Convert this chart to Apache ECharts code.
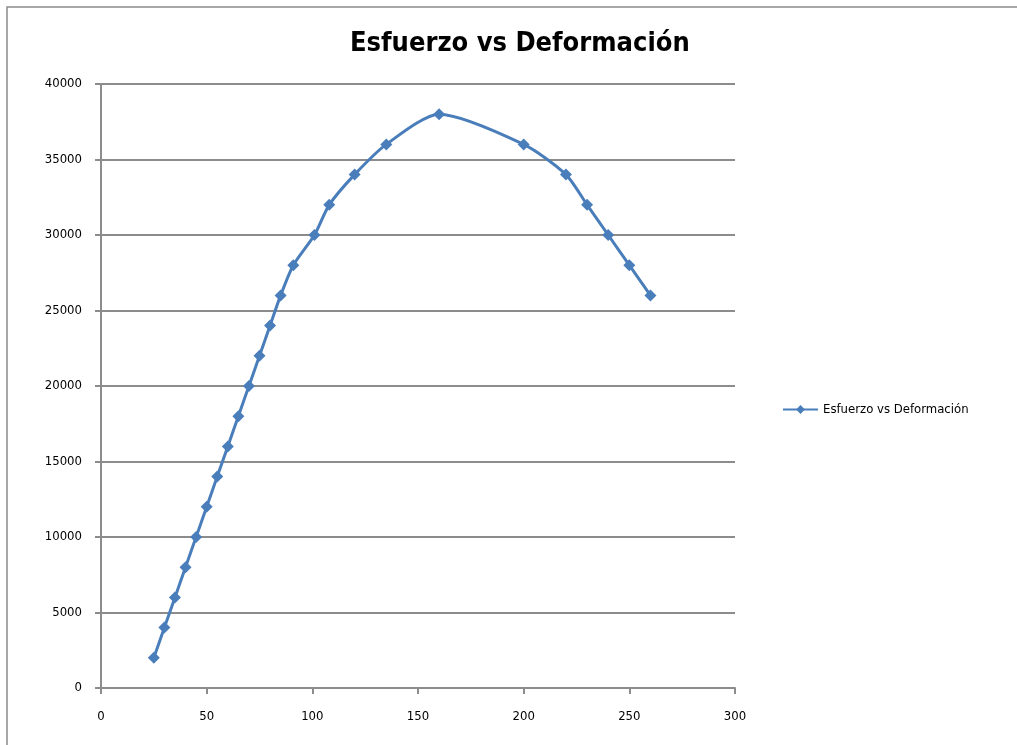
<!DOCTYPE html>
<html>
<head>
<meta charset="utf-8">
<script src="https://cdn.jsdelivr.net/npm/echarts@6/dist/echarts.min.js"></script>
<style>
html,body{margin:0;padding:0;background:#fff;}
#c{width:1017px;height:745px;}
</style>
</head>
<body>
<div id="c"></div>
<script>
var seriesName = 'Esfuerzo vs Deformación';
var deformacion = [25, 30, 35, 40, 45, 50, 55, 60, 65, 70, 75, 80, 85, 91, 101, 108, 120, 135, 160, 200, 220, 230, 240, 250, 260];
var esfuerzo = [2000, 4000, 6000, 8000, 10000, 12000, 14000, 16000, 18000, 20000, 22000, 24000, 26000, 28000, 30000, 32000, 34000, 36000, 38000, 36000, 34000, 32000, 30000, 28000, 26000];

var points = deformacion.map(function (x, i) { return [x, esfuerzo[i]]; });
var FONT = "'Liberation Sans Narrow','DejaVu Sans Condensed','Open Sans',sans-serif";
var chart = echarts.init(document.getElementById('c'));
chart.setOption({
  animation: false,
  backgroundColor: '#fff',
  title: {
    text: seriesName,
    left: 345,
    top: 25,
    textStyle: { fontFamily: FONT, fontSize: 27, fontWeight: 'bold', color: '#000' }
  },
  legend: {
    orient: 'vertical',
    left: 777,
    top: 398,
    itemWidth: 35,
    itemHeight: 11,
    itemGap: 4,
    textStyle: { fontFamily: FONT, fontSize: 13, color: '#000' },
    data: [seriesName]
  },
  graphic: [{
    type: 'rect',
    shape: { x: 7, y: 7, width: 1100, height: 800 },
    style: { fill: 'none', stroke: '#8c8c8c', lineWidth: 1.5 },
    silent: true
  }],
  grid: { left: 101, right: 282, top: 84, bottom: 57 },
  xAxis: {
    type: 'value',
    min: 0, max: 300, interval: 50,
    axisLine: { show: true, lineStyle: { color: '#8c8c8c', width: 2 } },
    axisTick: { show: true, length: 6, lineStyle: { color: '#8c8c8c', width: 2 } },
    axisLabel: { fontFamily: FONT, fontSize: 13, color: '#000', margin: 22 },
    splitLine: { show: false }
  },
  yAxis: {
    type: 'value',
    min: 0, max: 40000, interval: 5000,
    axisLine: { show: true, lineStyle: { color: '#8c8c8c', width: 2 } },
    axisTick: { show: true, length: 6, lineStyle: { color: '#8c8c8c', width: 2 } },
    axisLabel: { fontFamily: FONT, fontSize: 13, color: '#000', margin: 19, formatter: function (v) { return String(v); } },
    splitLine: { show: true, lineStyle: { color: '#8c8c8c', width: 2 } }
  },
  series: [{
    name: seriesName,
    type: 'line',
    data: points,
    smooth: 0.25,
    symbol: 'diamond',
    symbolSize: 12,
    lineStyle: { color: '#4a7ebb', width: 3 },
    itemStyle: { color: '#4a7ebb' }
  }]
});
</script>
</body>
</html>
